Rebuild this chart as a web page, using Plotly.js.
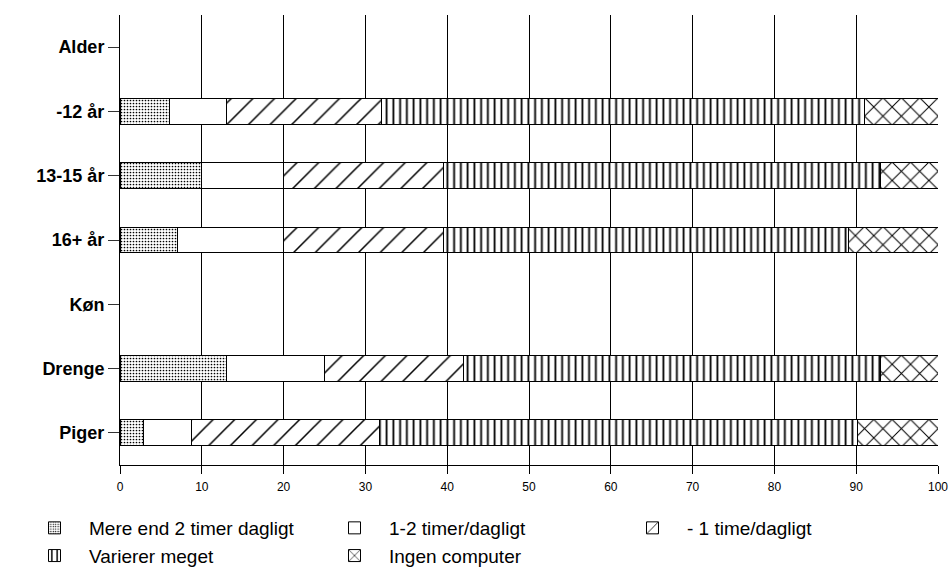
<!DOCTYPE html>
<html>
<head>
<meta charset="utf-8">
<script src="https://cdn.plot.ly/plotly-3.0.1.min.js"></script>
<style>html,body{margin:0;padding:0;background:#fff;}#chart{width:949px;height:570px;}</style>
</head>
<body>
<div id="chart"></div>
<script>
// Data
var categories = ['Alder', '-12 år', '13-15 år', '16+ år', 'Køn', 'Drenge', 'Piger'];
var seriesNames = ['Mere end 2 timer dagligt', '1-2 timer/dagligt', '- 1 time/dagligt', 'Varierer meget', 'Ingen computer'];
var mereEnd2 = [null, 6, 10, 7, null, 13, 2.9];
var enTilTo = [null, 7, 10, 13, null, 12, 5.9];
var underEn = [null, 19, 19.5, 19.6, null, 17, 22.9];
var varierer = [null, 59, 53.5, 49.4, null, 51, 58.4];
var ingen = [null, 9, 7, 11, null, 7, 9.9];
var xTicks = [0, 10, 20, 30, 40, 50, 60, 70, 80, 90, 100];

var seriesValues = [mereEnd2, enTilTo, underEn, varierer, ingen];
var patterns = [
  {shape: '.', size: 3, solidity: 0.25},
  {shape: '', size: 8, solidity: 0.2},
  {shape: '/', size: 15.3, solidity: 0.1},
  {shape: '|', size: 6.75, solidity: 0.27},
  {shape: 'x', size: 13, solidity: 0.15}
];
var legendIds = ['legend', 'legend2', 'legend3', 'legend', 'legend2'];

var FONT = '"Liberation Sans", Arial, sans-serif';

var traces = seriesValues.map(function (vals, i) {
  return {
    type: 'bar',
    orientation: 'h',
    name: seriesNames[i],
    legendgroup: 'g' + i,
    y: categories,
    x: vals,
    legend: legendIds[i],
    marker: {
      color: '#ffffff',
      line: {color: '#000000', width: 1},
      pattern: {
        shape: patterns[i].shape,
        size: patterns[i].size,
        solidity: patterns[i].solidity,
        fgcolor: '#000000',
        bgcolor: '#ffffff',
        fillmode: 'replace'
      }
    },
    hoverinfo: 'skip'
  };
});

var W = 949, H = 570;
var legendBase = {
  orientation: 'v',
  xref: 'container',
  yref: 'container',
  xanchor: 'left',
  yanchor: 'top',
  y: 1 - 509 / H,
  bgcolor: 'rgba(0,0,0,0)',
  borderwidth: 0,
  itemwidth: 59,
  tracegroupgap: 3,
  font: {family: FONT, size: 19, color: '#000'},
  traceorder: 'normal'
};

var layout = {
  width: W,
  height: H,
  margin: {l: 120, r: 11, t: 15, b: 105, autoexpand: false},
  paper_bgcolor: '#fff',
  plot_bgcolor: '#fff',
  barmode: 'stack',
  bargap: 0.596,
  showlegend: true,
  font: {family: FONT, color: '#000'},
  xaxis: {
    range: [0, 100],
    tickvals: xTicks,
    ticktext: xTicks.map(String),
    showgrid: true,
    gridcolor: '#000',
    gridwidth: 1,
    zeroline: false,
    showline: true,
    linecolor: '#000',
    linewidth: 1,
    ticks: 'outside',
    ticklen: 8,
    tickcolor: '#000',
    ticklabelstandoff: 3,
    tickfont: {family: FONT, size: 12, color: '#000'},
    automargin: false,
    fixedrange: true
  },
  yaxis: {
    type: 'category',
    categoryorder: 'array',
    categoryarray: categories,
    autorange: 'reversed',
    showgrid: false,
    zeroline: false,
    showline: true,
    linecolor: '#000',
    linewidth: 1,
    ticks: 'outside',
    ticklen: 11,
    tickcolor: '#333',
    tickfont: {family: FONT, size: 18, color: '#000', weight: 'bold'},
    automargin: false,
    fixedrange: true
  },
  legend: Object.assign({}, legendBase, {x: 20 / W}),
  legend2: Object.assign({}, legendBase, {x: 320 / W}),
  legend3: Object.assign({}, legendBase, {x: 618 / W})
};

Plotly.newPlot('chart', traces, layout, {staticPlot: true, displayModeBar: false});
</script>
</body>
</html>
